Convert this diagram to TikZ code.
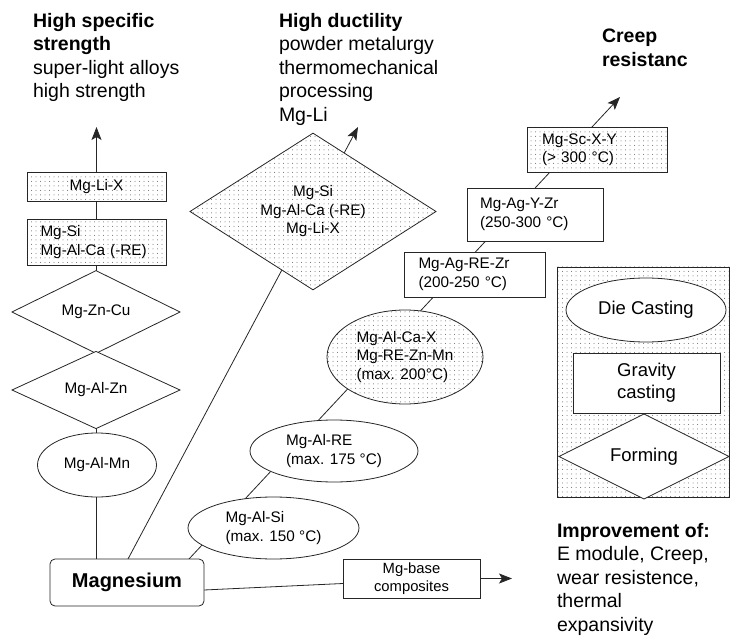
\documentclass[tikz,border=0pt]{standalone}
\usepackage{fontspec}
\setmainfont{Liberation Sans}
\usetikzlibrary{shapes.geometric,arrows.meta,patterns.meta,calc}
\pgfdeclarelayer{bg}
\pgfsetlayers{bg,main}
\begin{document}
\begin{tikzpicture}[x=1pt,y=-1pt,
  every node/.style={inner sep=0pt,outer sep=0pt},
  ln/.style={line width=0.8pt,draw=black!85},
  shp/.style={ln,fill=white},
  dotfill/.style={preaction={fill=white},pattern={Dots[radius=0.5pt,distance=4.5pt]},pattern color=black!60},
  nf/.style={font=\fontsize{15.3}{18.5}\selectfont},
  bf/.style={font=\fontsize{18.5}{22}\selectfont},
  tf/.style={font=\fontsize{19.5}{23.5}\selectfont,anchor=north west,align=left},
  arr/.style={ln,-{Stealth[length=13pt,width=10pt,inset=3pt]}},
]
\useasboundingbox (0,0) rectangle (731,636);

% left column
\node[ln,dotfill,minimum width=139,minimum height=29,nf] (lix) at (96.5,186.5) {Mg-Li-X};
\node[ln,dotfill,minimum width=139,minimum height=46,nf,align=left,text width=112] (sica) at (96.5,242) {Mg-Si\\Mg-Al-Ca (-RE)};
\node[shp,diamond,minimum width=168,minimum height=60,nf] (zncu) at (96,312) {Mg-Zn-Cu};
\node[shp,diamond,minimum width=168,minimum height=60,nf] (alzn) at (96,390) {Mg-Al-Zn};
\node[shp,ellipse,minimum width=119,minimum height=64,nf] (almn) at (97,465) {Mg-Al-Mn};
\node[ln,fill=white,rounded corners=5pt,minimum width=154,minimum height=47,font=\bfseries\fontsize{20}{24}\selectfont] (mg) at (127,582.5) {Magnesium};

% big diamond
\node[ln,dotfill,diamond,minimum width=246,minimum height=143,nf,align=center] (bigd) at (313,211.5) {Mg-Si\\Mg-Al-Ca (-RE)\\Mg-Li-X};

% creep chain
\node[shp,ellipse,minimum width=171,minimum height=62,nf,align=left] (alsi) at (273.5,528) {Mg-Al-Si\\(max. 150 °C)};
\node[shp,ellipse,minimum width=168,minimum height=62,nf,align=left] (alre) at (334,451) {Mg-Al-RE\\(max. 175 °C)};
\node[ln,dotfill,ellipse,minimum width=156,minimum height=94,nf,align=left] (alcax) at (405,357) {Mg-Al-Ca-X\\Mg-RE-Zn-Mn\\(max. 200°C)};
\node[shp,minimum width=141,minimum height=45,nf,align=left,text width=112] (agrezr) at (474.5,274.5) {Mg-Ag-RE-Zr\\(200-250 °C)};
\node[shp,minimum width=136,minimum height=53,nf,align=left,text width=110] (agyzr) at (535,214.5) {Mg-Ag-Y-Zr\\(250-300 °C)};
\node[ln,dotfill,minimum width=140,minimum height=45,nf,align=left,text width=110] (scxy) at (597,149.5) {Mg-Sc-X-Y\\(> 300 °C)};

% composites
\node[shp,minimum width=137,minimum height=39,font=\fontsize{14.8}{17.5}\selectfont,align=center] (comp) at (411.5,578.5) {Mg-base\\composites};

% processing panel
\node[ln,dotfill,minimum width=172,minimum height=230] (panel) at (643,382) {};
\node[shp,ellipse,minimum width=160,minimum height=64,bf] (die) at (646,310) {Die Casting};
\node[shp,minimum width=147,minimum height=60,bf,align=center] (grav) at (646.5,383) {Gravity\\casting};
\node[shp,diamond,minimum width=170,minimum height=71,bf] (form) at (644,456.5) {Forming};

% titles
\node[tf] (t1) at (33,13) {\textbf{High specific}\\\textbf{strength}\\super-light alloys\\high strength};
\node[tf] (t2) at (279,13) {\textbf{High ductility}\\powder metalurgy\\thermomechanical\\processing\\Mg-Li};
\node[tf] (t3) at (602,29) {\textbf{Creep}\\\textbf{resistanc}};
\node[tf] (t4) at (557,523) {\textbf{Improvement of:}\\E module, Creep,\\wear resistence,\\thermal\\expansivity};

\coordinate (tip1) at (96.5,127);
\coordinate (tip2) at (358,127);
\coordinate (tip3) at (620,97);

\begin{pgfonlayer}{bg}
\draw[arr] (lix |- mg.north) -- (tip1);
\draw[arr] (mg.north) ++(1,0) -- (tip2);
\draw[arr] ($(mg.north east)+(-15,0)$) -- (tip3);
\draw[ln] ($(mg.east)+(0,7.5)$) -- ($(comp.west)+(0,5)$);
\end{pgfonlayer}
\draw[arr] (comp.east) -- ++(32,0);
\end{tikzpicture}
\end{document}
